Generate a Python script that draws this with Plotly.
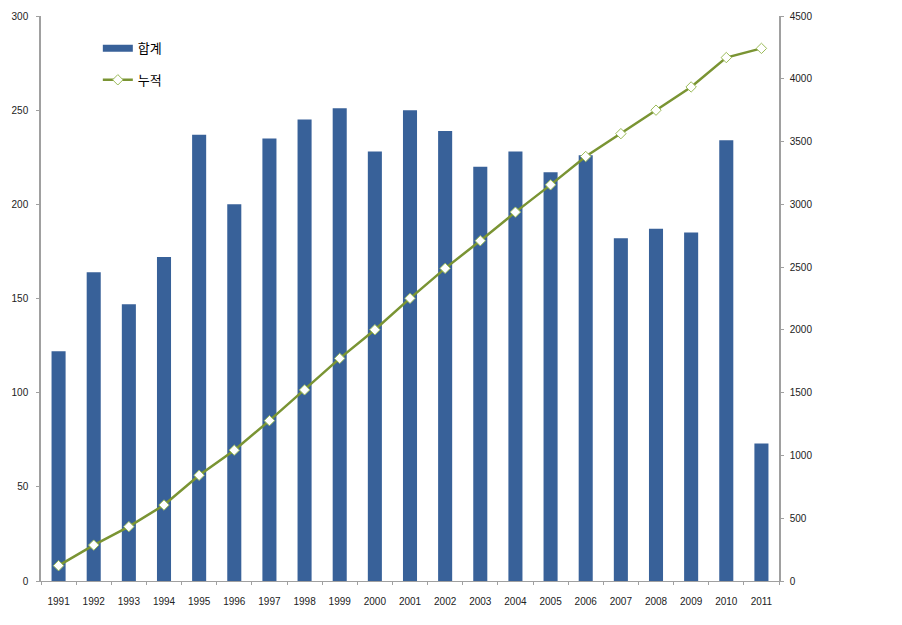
import plotly.graph_objects as go

years = [str(y) for y in range(1991, 2012)]
totals = [122, 164, 147, 172, 237, 200, 235, 245, 251, 228, 250, 239, 220, 228, 217, 226, 182, 187, 185, 234, 73]
cumulative = [122, 286, 433, 605, 842, 1042, 1277, 1522, 1773, 2001, 2251, 2490, 2710, 2938, 3155, 3381, 3563, 3750, 3935, 4169, 4242]
left_ticks = [0, 50, 100, 150, 200, 250, 300]
right_ticks = [0, 500, 1000, 1500, 2000, 2500, 3000, 3500, 4000, 4500]

bar_color = "#386199"
line_color = "#7A9433"

fig = go.Figure()
fig.add_trace(go.Bar(
    x=years, y=totals, name="합계", showlegend=False,
    marker=dict(color=bar_color, line=dict(width=0)),
))
# legend entry for the bars (wide flat swatch, like the original)
fig.add_trace(go.Scatter(
    x=[years[0]], y=[None], name="합계", mode="lines",
    line=dict(color=bar_color, width=7), legend="legend",
))
fig.add_trace(go.Scatter(
    x=years, y=cumulative, name="누적", yaxis="y2",
    mode="lines+markers", legend="legend2",
    line=dict(color=line_color, width=2.5),
    marker=dict(symbol="diamond", size=8, color="#FFFFFF",
                line=dict(color="#9BBB59", width=1)),
))

axis_font = dict(family="Liberation Sans, Arial, sans-serif", size=10, color="#222222")
legend_font = dict(family="Noto Sans CJK KR, sans-serif", size=13, color="#000000")
fig.update_layout(
    width=902, height=625,
    margin=dict(l=33, r=131, t=8, b=52, autoexpand=False),
    plot_bgcolor="white", paper_bgcolor="white",
    bargap=0.6,
    showlegend=True,
    legend=dict(x=0.077, y=0.943, xanchor="left", yanchor="middle",
                font=legend_font, bgcolor="rgba(0,0,0,0)"),
    legend2=dict(x=0.077, y=0.887, xanchor="left", yanchor="middle",
                 font=legend_font, bgcolor="rgba(0,0,0,0)"),
    xaxis=dict(
        type="category", range=[-0.5, len(years) - 0.5],
        showgrid=False, showline=True, linecolor="#A0A0A0", linewidth=1,
        ticks="outside", ticklen=3, tickcolor="#A0A0A0", tickson="boundaries",
        tickfont=axis_font, zeroline=False, tickangle=0, automargin=False,
        ticklabelstandoff=11,
    ),
    yaxis=dict(
        range=[0, 300], tickvals=left_ticks, showgrid=False, showline=True,
        linecolor="#A0A0A0", linewidth=1.5, ticks="outside", ticklen=3, tickcolor="#A0A0A0",
        tickfont=axis_font, zeroline=False, automargin=False, ticklabelstandoff=6,
    ),
    yaxis2=dict(
        range=[0, 4500], tickvals=right_ticks, overlaying="y", side="right",
        showgrid=False, showline=True, linecolor="#A0A0A0", linewidth=1.5,
        ticks="outside", ticklen=3, tickcolor="#A0A0A0", tickfont=axis_font,
        zeroline=False, automargin=False, ticklabelstandoff=4,
    ),
)

fig.write_html("out.html")
